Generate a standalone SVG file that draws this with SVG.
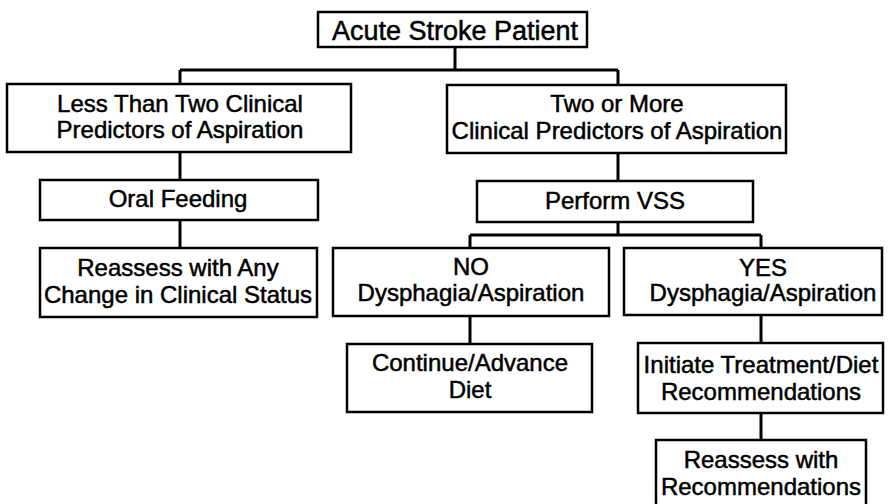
<svg xmlns="http://www.w3.org/2000/svg" width="890" height="504" viewBox="0 0 890 504">
<style>
.box{fill:#fff;stroke:#000;stroke-width:2.5}
.t{font-family:"Liberation Sans",Arial,sans-serif;font-size:24px;text-anchor:middle;fill:#000;stroke:#000;stroke-width:0.5}
.title{font-size:27px}
.c{fill:none;stroke:#000;stroke-width:3}
</style>
<rect width="890" height="504" fill="#fff"/>
<g id="connectors">
<path class="c" d="M455 47V70M180 70H618M180 70V84M618 70V85"/>
<path class="c" d="M180 152V180M180 220V248"/>
<path class="c" d="M618 153V181M618 222V235M470 235H761M470 235V248M761 235V248"/>
<path class="c" d="M470 316V344"/>
<path class="c" d="M761 315V343M761 413V440"/>
</g>
<g id="n-acute">
<rect class="box" x="318" y="12" width="269" height="35"/>
<text class="t title" x="455" y="40">Acute Stroke Patient</text>
</g>
<g id="n-less">
<rect class="box" x="7" y="84" width="344" height="68"/>
<text class="t" x="180" y="112">Less Than Two Clinical</text>
<text class="t" x="180" y="138">Predictors of Aspiration</text>
</g>
<g id="n-more">
<rect class="box" x="447" y="85" width="339" height="68"/>
<text class="t" x="617" y="112">Two or More</text>
<text class="t" x="617" y="139">Clinical Predictors of Aspiration</text>
</g>
<g id="n-oral">
<rect class="box" x="40" y="180" width="278" height="40"/>
<text class="t" x="178" y="207">Oral Feeding</text>
</g>
<g id="n-reassess-any">
<rect class="box" x="40" y="248" width="277" height="69"/>
<text class="t" x="178" y="276">Reassess with Any</text>
<text class="t" x="178" y="303">Change in Clinical Status</text>
</g>
<g id="n-vss">
<rect class="box" x="477" y="181" width="276" height="41"/>
<text class="t" x="615" y="209">Perform VSS</text>
</g>
<g id="n-no">
<rect class="box" x="333" y="248" width="276" height="68"/>
<text class="t" x="471" y="275">NO</text>
<text class="t" x="471" y="301">Dysphagia/Aspiration</text>
</g>
<g id="n-yes">
<rect class="box" x="624" y="248" width="258" height="67"/>
<text class="t" x="763" y="276">YES</text>
<text class="t" x="763" y="301">Dysphagia/Aspiration</text>
</g>
<g id="n-continue">
<rect class="box" x="347" y="344" width="245" height="68"/>
<text class="t" x="470" y="371">Continue/Advance</text>
<text class="t" x="470" y="398">Diet</text>
</g>
<g id="n-initiate">
<rect class="box" x="638" y="343" width="245" height="70"/>
<text class="t" x="761" y="373">Initiate Treatment/Diet</text>
<text class="t" x="761" y="400">Recommendations</text>
</g>
<g id="n-reassess-rec">
<rect class="box" x="656" y="440" width="210" height="70"/>
<text class="t" x="761" y="468">Reassess with</text>
<text class="t" x="761" y="495">Recommendations</text>
</g>
</svg>
